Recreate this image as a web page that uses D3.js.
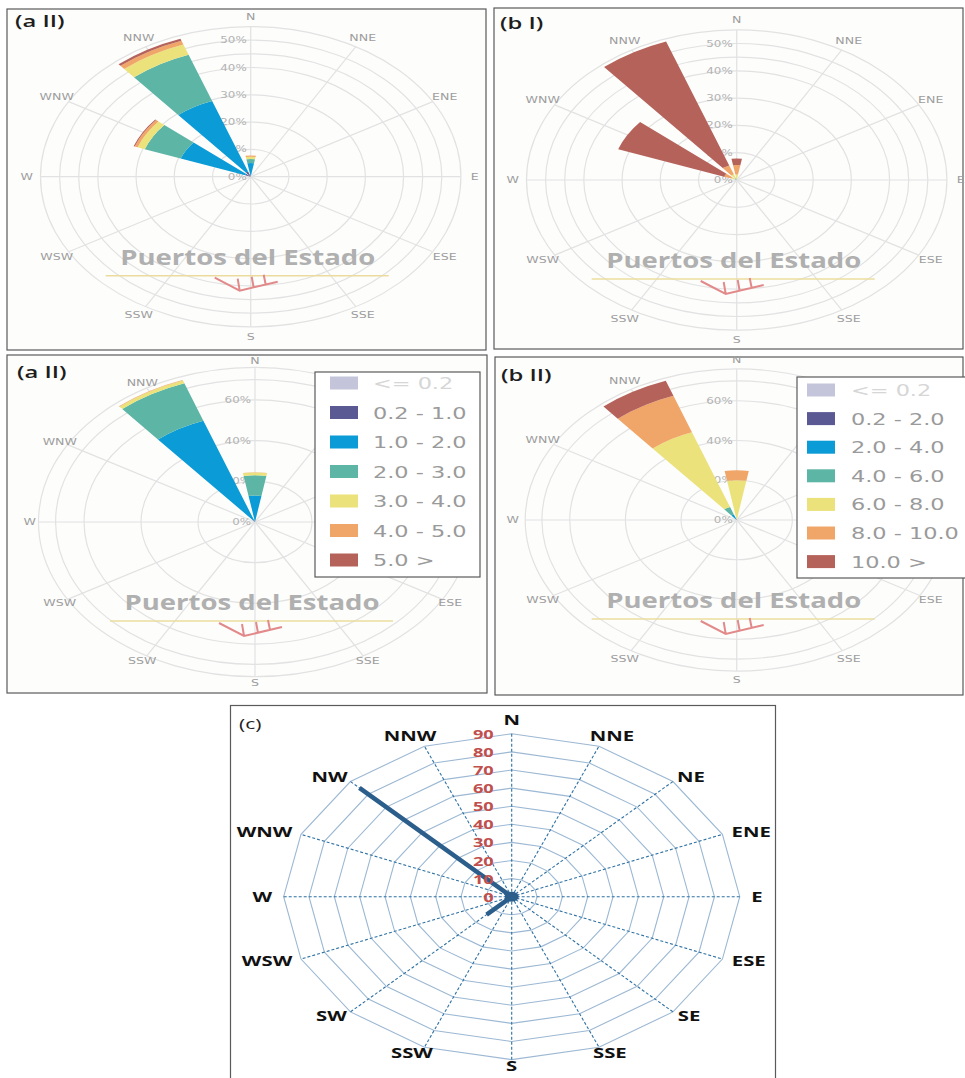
<!DOCTYPE html>
<html>
<head>
<meta charset="utf-8">
<script src="https://cdn.jsdelivr.net/npm/d3@7"></script>
<style>
  body { margin: 0; background: #fff; }
  svg { display: block; }
</style>
</head>
<body>
<div id="chart"></div>
<script>
// ---- data ----
const dirs12 = ["N", "NNE", "ENE", "E", "ESE", "SSE", "S", "SSW", "WSW", "W", "WNW", "NNW"];
const dirs16 = ["N", "NNE", "NE", "ENE", "E", "ESE", "SE", "SSE", "S", "SSW", "SW", "WSW", "W", "WNW", "NW", "NNW"];

const heightClasses = ["<= 0.2", "0.2 - 1.0", "1.0 - 2.0", "2.0 - 3.0", "3.0 - 4.0", "4.0 - 5.0", "5.0 >"];
const periodClasses = ["<= 0.2", "0.2 - 2.0", "2.0 - 4.0", "4.0 - 6.0", "6.0 - 8.0", "8.0 - 10.0", "10.0 >"];
const classColors = ["#c4c5da", "#5a5994", "#0b9bd6", "#5db5a6", "#ece27b", "#f0a668", "#b5625b"];

// % of records in each class, per sector (sectors not listed are empty)
const aI_N   = [0, 0.5, 4.5, 1.5, 0.8, 0.5, 0];
const aI_WNW = [0, 1.5, 18, 10, 2, 0.8, 0.3];
const aI_NNW = [0, 2, 27.5, 18, 4, 1.5, 0.8];

const bI_N   = [0, 0, 0, 0.3, 1.7, 3.5, 2.4];
const bI_WNW = [0, 0, 0.2, 0.3, 1, 2, 29.5];
const bI_NNW = [0, 0, 0.2, 0.5, 1.5, 3.5, 48.3];

const aII_N   = [0, 0.3, 12.7, 10, 1.3, 0.2, 0];
const aII_NNW = [0, 1, 52, 19.5, 1.5, 0.3, 0];

const bII_N   = [0, 0, 0.1, 0.4, 19.5, 5, 0];
const bII_NNW = [0, 0.5, 2.5, 4, 40, 19.5, 8];

const ticksI = [0, 10, 20, 30, 40, 50];
const ringsI = [10, 20, 30, 40, 45, 50, 55];
const ticksII = [0, 20, 40, 60];
const ringsII = [20, 40, 60, 70, 76];

const cValues = [0, 0, 0, 0, 0, 0, 0, 0, 0, 0, 14, 0, 0, 0, 85, 0];
const cTicks = [0, 10, 20, 30, 40, 50, 60, 70, 80, 90];

// ---- drawing ----
const SX = 1.4;               // the figure is stretched horizontally
const rad = Math.PI / 180;

const svg = d3.select("#chart").append("svg")
    .attr("width", 965)
    .attr("height", 1078)
    .style("font-family", "'DejaVu Sans', sans-serif");

function stretched(parent, x, y, str) {
    return parent.append("text")
        .attr("transform", `translate(${x},${y}) scale(${SX},1)`)
        .text(str);
}

function drawRose(p) {
    svg.append("rect")
        .attr("x", p.frame[0]).attr("y", p.frame[1])
        .attr("width", p.frame[2]).attr("height", p.frame[3])
        .attr("fill", "#fdfdfc")
        .attr("stroke", "#5a5a5a")
        .attr("stroke-width", 1.2);

    const r = d3.scaleLinear().domain([0, p.unit[0]]).range([0, p.unit[1]]);
    const outer = r(d3.max(p.rings));

    const grid = svg.append("g")
        .attr("transform", `translate(${p.cx},${p.cy}) scale(${SX},1)`);

    grid.selectAll(".ring")
        .data(p.rings)
        .join("circle")
        .attr("class", "ring")
        .attr("r", d => r(d))
        .attr("fill", "none")
        .attr("stroke", "#e2e2e2")
        .attr("stroke-width", 1.2)
        .attr("vector-effect", "non-scaling-stroke");

    grid.selectAll(".spoke")
        .data(dirs12)
        .join("line")
        .attr("class", "spoke")
        .attr("x2", (d, i) => outer * Math.sin(i * 30 * rad))
        .attr("y2", (d, i) => -outer * Math.cos(i * 30 * rad))
        .attr("stroke", "#e2e2e2")
        .attr("stroke-width", 1.2)
        .attr("vector-effect", "non-scaling-stroke");

    // percent labels on the N axis
    const tl = svg.append("g")
        .attr("fill", "#b3b3b3")
        .attr("text-anchor", "end")
        .style("font-size", "8.5px");
    p.ticks.forEach(v => stretched(tl, p.cx - 4, p.cy - r(v) + 3, v + "%"));

    // direction labels (those under the legend box are not visible)
    const L = p.legend;
    const dl = svg.append("g")
        .attr("fill", "#9e9e9e")
        .attr("text-anchor", "middle")
        .style("font-size", "9px");
    dirs12.forEach((d, i) => {
        const a = i * 30 * rad;
        const x = p.cx + SX * p.labelR * Math.sin(a);
        const y = p.cy - p.labelR * Math.cos(a) + 3;
        if (L && x > L.x - 12 && x < L.x + L.w + 12 && y > L.y - 4 && y < L.y + L.h + 8) return;
        stretched(dl, x, y, d);
    });

    // stacked sectors
    const wedges = svg.append("g")
        .attr("transform", `translate(${p.cx},${p.cy}) scale(${SX},1)`);
    const arc = d3.arc();
    p.sectors.forEach(s => {
        const ang = dirs12.indexOf(s.dir) * 30 * rad;
        let acc = 0;
        const parts = s.values.map((v, k) => {
            const a0 = acc;
            acc += v;
            return {inner: a0, outer: acc, k: k};
        }).filter(d => d.outer > d.inner);

        wedges.append("g")
            .selectAll("path")
            .data(parts)
            .join("path")
            .attr("d", d => arc({
                innerRadius: r(d.inner),
                outerRadius: r(d.outer),
                startAngle: ang - 10 * rad,
                endAngle: ang + 10 * rad
            }))
            .attr("fill", d => classColors[d.k]);
    });

    // watermark logo
    const logo = svg.append("g");
    logo.append("text")
        .attr("x", p.cx - 3)
        .attr("y", p.cy + 88)
        .attr("text-anchor", "middle")
        .attr("textLength", 255)
        .attr("lengthAdjust", "spacingAndGlyphs")
        .style("font-family", "'Open Sans', sans-serif")
        .style("font-weight", 700)
        .style("font-size", "22px")
        .attr("fill", "#a8a8a8")
        .attr("opacity", 0.9)
        .text("Puertos del Estado");
    logo.append("line")
        .attr("x1", p.cx - 145).attr("x2", p.cx + 138)
        .attr("y1", p.cy + 99).attr("y2", p.cy + 99)
        .attr("stroke", "#ebdc9e")
        .attr("stroke-width", 1.5);
    logo.append("path")
        .attr("transform", `translate(${p.cx},${p.cy + 99})`)
        .attr("d", "M-36,2 L-11,15 L27,6 M-11,15 L-13,3 M3,12 L1,1 M15,9 L13,-1")
        .attr("fill", "none")
        .attr("stroke", "#e28a8a")
        .attr("stroke-width", 2);

    // legend
    if (L) {
        const lg = svg.append("g");
        lg.append("rect")
            .attr("x", L.x).attr("y", L.y)
            .attr("width", L.w).attr("height", L.h)
            .attr("fill", "#fff")
            .attr("stroke", "#5a5a5a")
            .attr("stroke-width", 1.2);
        L.classes.forEach((c, k) => {
            const y = L.y0 + k * L.step;
            lg.append("rect")
                .attr("x", L.sx).attr("y", y - 6.5)
                .attr("width", 28).attr("height", 13)
                .attr("fill", classColors[k]);
            stretched(lg, L.tx, y + 6, c)
                .attr("fill", k === 0 ? "#d6d6d6" : "#9a9a9a")
                .style("font-size", "16px");
        });
    }

    stretched(svg, p.titlePos[0], p.titlePos[1], p.title)
        .attr("fill", "#1e1e1e")
        .style("font-family", "'Open Sans', sans-serif")
        .style("font-weight", 600)
        .style("font-size", "17px");
}

drawRose({
    frame: [7, 9, 479, 341], title: "(a II)", titlePos: [15, 27],
    cx: 250.7, cy: 176.7, unit: [10, 27.3], labelR: 160,
    rings: ringsI, ticks: ticksI,
    sectors: [{dir: "N", values: aI_N}, {dir: "WNW", values: aI_WNW}, {dir: "NNW", values: aI_NNW}]
});

drawRose({
    frame: [494, 8, 469, 341], title: "(b I)", titlePos: [500, 29],
    cx: 736.7, cy: 180, unit: [10, 27.3], labelR: 160,
    rings: ringsI, ticks: ticksI,
    sectors: [{dir: "N", values: bI_N}, {dir: "WNW", values: bI_WNW}, {dir: "NNW", values: bI_NNW}]
});

drawRose({
    frame: [7, 355, 480, 338], title: "(a II)", titlePos: [17, 378],
    cx: 255, cy: 522, unit: [20, 40.7], labelR: 161,
    rings: ringsII, ticks: ticksII,
    sectors: [{dir: "N", values: aII_N}, {dir: "NNW", values: aII_NNW}],
    legend: {x: 315, y: 372, w: 165, h: 205, classes: heightClasses,
             y0: 383, step: 29.5, sx: 330, tx: 373}
});

drawRose({
    frame: [495, 357, 468, 338], title: "(b II)", titlePos: [501, 381],
    cx: 736.7, cy: 520, unit: [20, 39.75], labelR: 160,
    rings: ringsII, ticks: ticksII,
    sectors: [{dir: "N", values: bII_N}, {dir: "NNW", values: bII_NNW}],
    legend: {x: 797, y: 377, w: 175, h: 201, classes: periodClasses,
             y0: 390, step: 28.6, sx: 807, tx: 851}
});

// ---- panel (c): radar of directions ----
function drawRadar() {
    const cx = 511.7, cy = 896.7;
    svg.append("rect")
        .attr("x", 230.5).attr("y", 705.5)
        .attr("width", 545).attr("height", 400)
        .attr("fill", "#fff")
        .attr("stroke", "#5a5a5a")
        .attr("stroke-width", 1.2);

    const r = d3.scaleLinear().domain([0, 10]).range([0, 18.1]);
    const ang = i => i * 2 * Math.PI / dirs16.length;
    const radial = d3.lineRadial()
        .angle((d, i) => ang(i))
        .radius(d => r(d))
        .curve(d3.curveLinearClosed);

    const g = svg.append("g")
        .attr("transform", `translate(${cx},${cy}) scale(${SX},1)`);

    cTicks.slice(1).forEach(v => {
        g.append("path")
            .attr("d", radial(dirs16.map(() => v)))
            .attr("fill", "none")
            .attr("stroke", "#9cb8d3")
            .attr("stroke-width", 1.1)
            .attr("vector-effect", "non-scaling-stroke");
    });

    const rMax = r(d3.max(cTicks));
    g.selectAll(".spoke")
        .data(dirs16)
        .join("line")
        .attr("class", "spoke")
        .attr("x2", (d, i) => rMax * Math.sin(ang(i)))
        .attr("y2", (d, i) => -rMax * Math.cos(ang(i)))
        .attr("stroke", "#2f72a3")
        .attr("stroke-width", 1.1)
        .attr("stroke-dasharray", "3,2")
        .attr("vector-effect", "non-scaling-stroke");

    const tl = svg.append("g")
        .attr("fill", "#c0504d")
        .attr("text-anchor", "end")
        .style("font-family", "'Open Sans', sans-serif")
        .style("font-size", "13px")
        .style("font-weight", "bold");
    cTicks.forEach(v => stretched(tl, cx - 18, cy - r(v) + 5, v));

    g.append("path")
        .attr("d", radial(cValues))
        .attr("fill", "none")
        .attr("stroke", "#2c5e8c")
        .attr("stroke-width", 4.5)
        .attr("stroke-linejoin", "bevel")
        .attr("vector-effect", "non-scaling-stroke");
    g.append("circle")
        .attr("r", 5)
        .attr("fill", "#2c5e8c");

    const dl = svg.append("g")
        .attr("fill", "#111")
        .attr("text-anchor", "middle")
        .style("font-family", "'Open Sans', sans-serif")
        .style("font-size", "14.5px")
        .style("font-weight", "bold");
    const LR = 169;
    dirs16.forEach((d, i) => {
        const a = ang(i);
        const t = stretched(dl, 0, 0, d);
        const w = t.node().getComputedTextLength() * SX;
        const c = Math.cos(a);
        const x = cx + SX * LR * Math.sin(a) + Math.sin(a) * (w / 2 + 3);
        const y = cy - LR * c - (c > 0 ? Math.pow(c, 8) * 8 : 0) + 5;
        t.attr("transform", `translate(${x},${y}) scale(${SX},1)`);
    });

    stretched(svg, 239, 729, "(c)")
        .attr("fill", "#222")
        .style("font-family", "'Open Sans', sans-serif")
        .style("font-size", "15px");
}

drawRadar();
</script>
</body>
</html>
